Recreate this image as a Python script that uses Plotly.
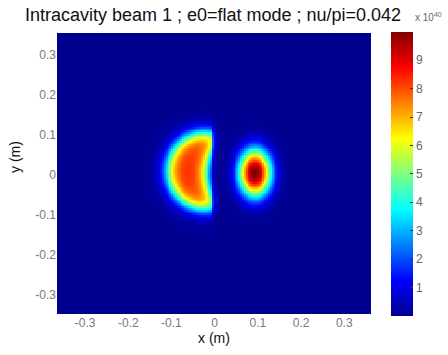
import numpy as np
import plotly.graph_objects as go

# --- chart data, intensity in units of 1e40 ---
title_text = "Intracavity beam 1 ; e0=flat mode ; nu/pi=0.042"
x_ticks = [-0.3, -0.2, -0.1, 0, 0.1, 0.2, 0.3]
x_tick_labels = ["-0.3", "-0.2", "-0.1", "0", "0.1", "0.2", "0.3"]
y_ticks = [-0.3, -0.2, -0.1, 0, 0.1, 0.2, 0.3]
y_tick_labels = ["-0.3", "-0.2", "-0.1", "0", "0.1", "0.2", "0.3"]
cbar_ticks = [1, 2, 3, 4, 5, 6, 7, 8, 9]

# crescent beam: outer ellipse, inner cut ellipse, hard edge, peak level
crescent_outer = [-0.022, 0.010, 0.086, 0.095]   # cx, cy, ax, ay
crescent_inner = [0.060, 0.003, 0.078, 0.100]    # cx, cy, ax, ay
crescent_edge_x = -0.004
crescent_edge_leak = [0.45, 0.008]               # level, decay length
crescent_peak = 8.4
# small spot: cx, cy, sx, sy, exponent, peak
spot = [0.093, 0.005, 0.038, 0.060, 2.3, 10.0]

xs = np.linspace(-0.365, 0.362, 170)
ys = np.linspace(-0.348, 0.355, 164)
X, Y = np.meshgrid(xs, ys)

def ell(p):
    return np.sqrt(((X - p[0]) / p[2]) ** 2 + ((Y - p[1]) / p[3]) ** 2)

w = 0.12
s_out = 1 / (1 + np.exp((ell(crescent_outer) - 1) / w))
s_in = 1 / (1 + np.exp(-(ell(crescent_inner) - 1) / w))
s_cut = np.where(X < crescent_edge_x, 1.0,
                 crescent_edge_leak[0] * np.exp(-(X - crescent_edge_x) / crescent_edge_leak[1]))
Z = crescent_peak * s_out * s_in * s_cut
d = np.sqrt(((X - spot[0]) / spot[2]) ** 2 + ((Y - spot[1]) / spot[3]) ** 2)
Z = Z + spot[5] * np.exp(-d ** spot[4])

jet = [[0.0, "#00008f"], [0.125, "#0000ff"], [0.375, "#00ffff"],
       [0.625, "#ffff00"], [0.875, "#ff0000"], [1.0, "#800000"]]

fig = go.Figure(go.Heatmap(
    x=xs, y=ys, z=Z, zmin=0, zmax=10, colorscale=jet,
    colorbar=dict(
        thickness=22, lenmode="pixels", len=284, x=1.064, xanchor="left",
        y=1.004, yanchor="top", tickvals=cbar_ticks, outlinewidth=0,
        ticks="inside", ticklen=3, tickcolor="#333", xpad=0, ypad=0,
        tickfont=dict(family="Liberation Sans, Arial", size=12, color="#666"),
    ),
))

fig.update_layout(
    width=448, height=355,
    margin=dict(l=57, r=77, t=33, b=41, autoexpand=False),
    paper_bgcolor="white", plot_bgcolor="white",
    font=dict(family="Liberation Sans, Arial", color="#222"),
    title=dict(text=title_text, x=213 / 448, xanchor="center", y=1 - 15 / 355,
               yanchor="middle", xref="container",
               font=dict(size=18, color="#111")),
    xaxis=dict(range=[-0.365, 0.362], tickvals=x_ticks, ticktext=x_tick_labels,
               ticks="", showgrid=False, zeroline=False,
               tickfont=dict(size=12, color="#777"),
               title=dict(text="x (m)", font=dict(size=14, color="#111"), standoff=2)),
    yaxis=dict(range=[-0.348, 0.355], tickvals=y_ticks, ticktext=y_tick_labels,
               ticks="", showgrid=False, zeroline=False,
               tickfont=dict(size=12, color="#777")),
    annotations=[
        dict(text="y (m)", xref="paper", yref="paper", x=-42 / 314, y=(314 - 157) / 281,
             xanchor="center", yanchor="middle", textangle=-90, showarrow=False,
             font=dict(size=14, color="#111")),
        dict(text="x 10<sup>40</sup>", xref="paper", yref="paper",
             x=(413 - 57) / 314, y=(314 - 25) / 281, xanchor="left", yanchor="bottom",
             showarrow=False, font=dict(size=10, color="#666")),
    ],
)

fig.write_html("out.html")
